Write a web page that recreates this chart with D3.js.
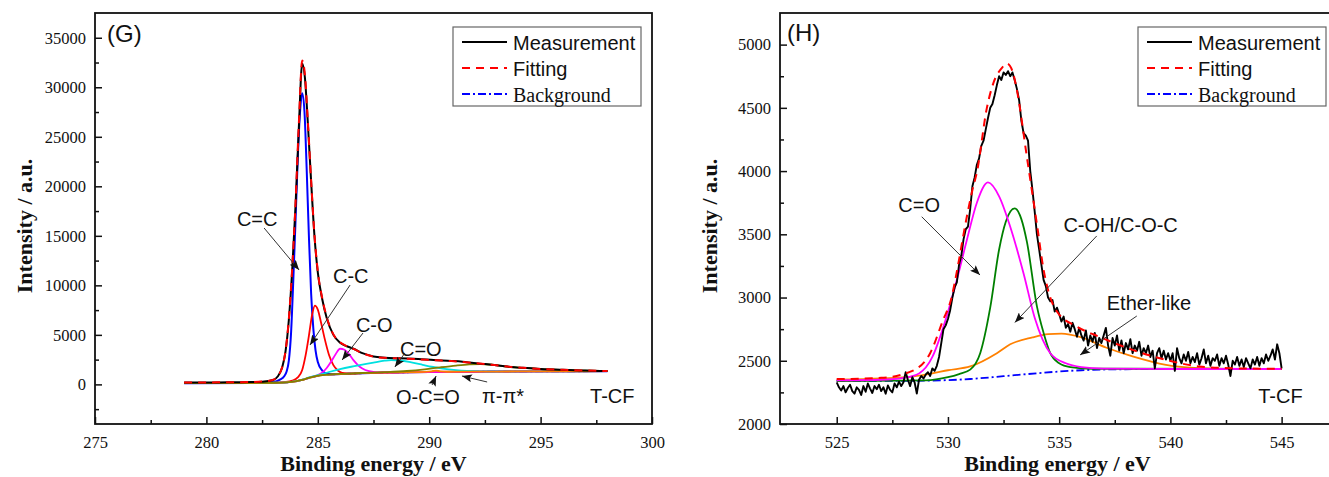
<!DOCTYPE html>
<html><head><meta charset="utf-8">
<script src="https://cdn.jsdelivr.net/npm/d3@7"></script>
<style>body{margin:0;background:#fff}svg{display:block}</style>
</head><body>
<svg id="c" width="1329" height="477"></svg>
<script>
// ---------------- Panel G (C1s) data: [binding energy eV, intensity] ----------------
const gMeasurement = [[279,190],[280,200],[281,205],[282,230],[282.5,270],[283,450],[283.2,800],[283.4,1700],[283.55,3300],[283.7,6500],[283.85,11500],[284.0,18000],[284.15,26000],[284.3,32400],[284.42,31000],[284.55,26500],[284.7,20500],[284.85,15000],[285.0,11300],[285.2,8600],[285.4,6700],[285.7,5000],[286.0,4200],[286.3,3850],[286.6,3600],[287.0,3150],[287.5,2820],[288.0,2700],[288.7,2630],[289.5,2560],[290.2,2450],[291.0,2360],[291.5,2280],[292.0,2150],[292.5,2050],[293.0,1930],[293.5,1800],[294.2,1670],[295.0,1560],[296.0,1470],[297.0,1400],[298.0,1345]];
const gFitting = [[279,190],[280,200],[281,210],[282,240],[282.5,290],[283,470],[283.2,820],[283.4,1720],[283.55,3350],[283.7,6600],[283.85,11700],[284.0,18300],[284.15,26400],[284.3,32700],[284.42,31300],[284.55,26700],[284.7,20600],[284.85,15100],[285.0,11400],[285.2,8700],[285.4,6800],[285.7,5050],[286.0,4250],[286.3,3850],[286.6,3580],[287.0,3150],[287.5,2800],[288.0,2680],[288.7,2610],[289.5,2540],[290.2,2440],[291.0,2350],[291.5,2270],[292.0,2150],[292.5,2050],[293.0,1930],[293.5,1800],[294.2,1670],[295.0,1560],[296.0,1470],[297.0,1400],[298.0,1345]];
const gBackground = [[279,120],[282,140],[283,160],[283.6,200],[284.0,300],[284.3,450],[284.6,650],[284.9,820],[285.2,930],[285.6,1000],[286.2,1060],[287,1130],[288,1190],[289.5,1240],[291,1270],[293,1295],[295,1315],[298,1335]];
const gCC_sp2 = [[279,120],[282,140],[283,250],[283.3,480],[283.5,850],[283.6,1300],[283.7,2400],[283.8,5200],[283.9,10500],[284.0,16500],[284.1,22800],[284.2,27400],[284.3,29400],[284.4,27600],[284.5,21800],[284.6,15000],[284.7,9200],[284.8,5600],[284.9,3400],[285.0,2250],[285.2,1400],[285.4,1100],[285.7,1020],[286.2,1060],[287,1130],[288,1190],[290,1250],[293,1295],[298,1335]];
const gCC_sp3 = [[279,120],[283,165],[283.5,220],[283.9,400],[284.1,700],[284.3,1450],[284.45,2900],[284.6,4900],[284.75,7100],[284.87,7950],[285.0,7550],[285.15,6200],[285.3,4700],[285.5,3000],[285.7,1950],[285.9,1400],[286.1,1150],[286.5,1080],[287,1130],[288,1190],[290,1250],[293,1295],[298,1335]];
const gCO = [[279,120],[283,160],[283.6,200],[284.0,300],[284.3,450],[284.6,660],[284.8,800],[285.0,950],[285.2,1200],[285.4,1650],[285.6,2300],[285.8,3050],[286.0,3600],[286.2,3500],[286.4,3050],[286.6,2450],[286.8,1950],[287.0,1600],[287.3,1330],[287.7,1210],[288.2,1200],[289,1230],[291,1270],[294,1305],[298,1335]];
const gCdO = [[279,120],[282,140],[283,165],[283.6,210],[284.0,320],[284.3,480],[284.6,700],[285,930],[285.5,1250],[286,1540],[286.5,1780],[287,1990],[287.5,2200],[288,2390],[288.3,2450],[288.7,2410],[289.2,2220],[289.7,1980],[290.1,1780],[290.6,1600],[291.2,1450],[291.7,1370],[292.3,1320],[293,1300],[295,1315],[298,1335]];
const gOCdO = [[279,120],[282,140],[283,160],[283.6,200],[284.0,300],[284.3,450],[284.6,650],[284.9,820],[285.2,930],[285.6,1000],[286.2,1060],[287,1130],[288,1190],[289,1230],[289.8,1265],[290.1,1320],[290.3,1390],[290.5,1320],[290.8,1275],[292,1285],[294,1305],[296,1320],[298,1335]];
const gPiPi = [[279,125],[282,145],[283,165],[283.6,205],[284.0,305],[284.3,455],[284.6,655],[284.9,825],[285.2,935],[285.6,1005],[286.2,1070],[287,1150],[288,1230],[289,1350],[289.8,1520],[290.5,1720],[291.2,1900],[291.8,2020],[292.3,2060],[292.9,1960],[293.5,1790],[294.2,1660],[295,1550],[296,1460],[297,1390],[298,1345]];

// ---------------- Panel H (O1s) data ----------------
const hMeasStart = 525.0, hMeasStep = 0.1;
const hMeasurement = [
2330,2290,2265,2300,2250,2285,2310,2260,2240,2290,
2270,2230,2300,2255,2320,2280,2245,2300,2275,2310,
2260,2290,2240,2305,2270,2250,2320,2290,2335,2300,
2330,2410,2350,2300,2370,2330,2240,2350,2380,2360,
2390,2410,2380,2440,2420,2460,2530,2640,2750,2780,
2830,2900,3000,3080,3120,3260,3330,3460,3540,3560,
3700,3880,3950,4050,4100,4200,4240,4330,4420,4500,
4530,4600,4680,4750,4720,4780,4760,4790,4750,4780,
4720,4650,4560,4400,4300,4280,4240,4000,3850,3680,
3500,3380,3260,3140,3090,3000,2970,2980,2890,2920,
2870,2810,2850,2760,2790,2730,2800,2750,2690,2760,
2700,2660,2740,2620,2700,2650,2720,2600,2680,2640,
2700,2760,2620,2540,2680,2620,2700,2580,2660,2560,
2640,2590,2670,2560,2620,2580,2650,2540,2600,2560,
2620,2530,2580,2440,2560,2600,2520,2580,2510,2560,
2500,2560,2420,2600,2520,2480,2550,2500,2570,2480,
2530,2490,2560,2470,2520,2590,2480,2540,2460,2520,
2500,2550,2460,2520,2480,2540,2470,2380,2500,2470,
2530,2460,2510,2450,2520,2480,2440,2510,2470,2530,
2460,2520,2480,2550,2500,2540,2590,2510,2630,2560,
2440];
const hFitting = [[525,2355],[527,2365],[528.4,2420],[529.2,2560],[529.8,2830],[530.1,2960],[530.5,3300],[530.7,3500],[531.1,3850],[531.3,3990],[531.75,4500],[532.05,4700],[532.4,4810],[532.65,4850],[532.9,4790],[533.1,4640],[533.55,4110],[534.0,3580],[534.3,3220],[534.6,3000],[534.9,2890],[535.8,2770],[536.8,2690],[538.3,2586],[539.8,2507],[541.3,2455],[543,2440],[545,2437]];
const hBackground = [[525,2340],[528,2341],[530,2347],[531,2356],[532,2370],[533,2386],[534,2401],[535,2415],[536,2425],[537,2431],[539,2434],[545,2435]];
const hCdO = [[525,2345],[527,2350],[528,2365],[528.7,2400],[529.3,2530],[529.8,2770],[530.4,3140],[530.85,3455],[531.3,3750],[531.8,3910],[532.3,3800],[532.8,3560],[533.4,3190],[533.9,2840],[534.6,2560],[535.3,2480],[536,2450],[537,2438],[540,2435],[545,2435]];
const hCOH = [[525,2340],[529,2345],[530,2370],[530.5,2395],[531,2430],[531.45,2560],[531.9,2920],[532.3,3380],[532.6,3600],[533.0,3705],[533.3,3620],[533.55,3440],[534.0,2930],[534.3,2720],[534.6,2560],[535.0,2480],[535.5,2450],[536.5,2437],[545,2435]];
const hEther = [[525,2350],[527,2360],[528.4,2375],[529.3,2400],[530,2425],[531,2455],[532.2,2560],[532.8,2630],[533.8,2685],[534.5,2710],[535.1,2715],[536,2685],[537.1,2605],[538.3,2535],[539.8,2468],[541.3,2442],[543,2436],[545,2435]];

// tick values
const gXMajor = [275,280,285,290,295,300];
const gXMinor = [277.5,282.5,287.5,292.5,297.5];
const gYMajor = [0,5000,10000,15000,20000,25000,30000,35000];
const gYMinor = [-2500,2500,7500,12500,17500,22500,27500,32500];
const hXMajor = [525,530,535,540,545];
const hXMinor = [527.5,532.5,537.5,542.5];
const hYMajor = [2000,2500,3000,3500,4000,4500,5000];
const hYMinor = [2250,2750,3250,3750,4250,4750];

// annotations (text position and arrows in data coordinates)
const gLabels = [
  {t:"C=C", x:281.37, y:16000, ax:[282.59,15790,284.16,11550]},
  {t:"C-C", x:285.68, y:10237, ax:[286.45,10035,284.65,3977]},
  {t:"C-O", x:286.71, y:5340, ax:[287.03,5188,286.09,2462]},
  {t:"C=O", x:288.69, y:2866, ax:[288.91,3169,288.46,1755]},
  {t:"O-C=O", x:288.51, y:-1981, ax:[290.13,-62,290.31,847]},
  {t:"π-π*", x:292.37, y:-1880, ax:[292.60,241,291.47,847]},
  {t:"T-CF", x:297.22, y:-1880, ax:null}
];
const hLabels = [
  {t:"C=O", x:527.77, y:3676, ax:[528.82,3639,531.44,3178]},
  {t:"C-OH/C-O-C", x:535.19, y:3522, ax:[536.69,3487,533.01,2803]},
  {t:"Ether-like", x:537.14, y:2901, ax:[538.49,2854,535.94,2546]},
  {t:"T-CF", x:543.95, y:2170, ax:null}
];

const svg = d3.select("#c");
const defs = svg.append("defs");
defs.append("marker").attr("id","arr").attr("markerUnits","userSpaceOnUse")
  .attr("markerWidth",11).attr("markerHeight",8).attr("refX",10).attr("refY",4)
  .attr("orient","auto")
  .append("path").attr("d","M0,0 L10,4 L0,8 L2,4 Z").attr("fill","#111");

const SANS = "'Liberation Sans', Arial, sans-serif";
const SERIF = "'Liberation Serif', 'Times New Roman', serif";

function panel(cfg){
  const g = svg.append("g");
  const x = d3.scaleLinear().domain(cfg.xd).range(cfg.xr);
  const y = d3.scaleLinear().domain(cfg.yd).range([424,13]);
  g.append("g").attr("transform","translate(0,424)")
    .call(d3.axisBottom(x).tickValues(cfg.xMaj).tickSize(-7).tickSizeOuter(0).tickPadding(12).tickFormat(d3.format("d")));
  g.append("g").attr("transform","translate(0,424)")
    .call(d3.axisBottom(x).tickValues(cfg.xMin).tickSize(-4).tickSizeOuter(0).tickFormat(""));
  g.append("g").attr("transform",`translate(${cfg.xr[0]},0)`)
    .call(d3.axisLeft(y).tickValues(cfg.yMaj).tickSize(-7).tickSizeOuter(0).tickPadding(9).tickFormat(d3.format("d")));
  g.append("g").attr("transform",`translate(${cfg.xr[0]},0)`)
    .call(d3.axisLeft(y).tickValues(cfg.yMin).tickSize(-4).tickSizeOuter(0).tickFormat(""));
  g.selectAll(".domain").remove();
  g.selectAll(".tick line").attr("stroke","#111").attr("stroke-width",1.5);
  g.selectAll(".tick text").attr("font-family",SERIF).attr("font-size",16.5).attr("fill","#111");
  g.append("rect").attr("x",cfg.xr[0]).attr("y",13).attr("width",cfg.xr[1]-cfg.xr[0]).attr("height",411)
    .attr("fill","none").attr("stroke","#111").attr("stroke-width",1.8);
  const line = d3.line().x(d=>x(d[0])).y(d=>y(d[1])).curve(d3.curveMonotoneX);
  const straight = d3.line().x(d=>x(d[0])).y(d=>y(d[1]));
  cfg.series.forEach(s=>{
    g.append("path").datum(s.data).attr("d", s.straight ? straight(s.data) : line(s.data))
      .attr("fill","none").attr("stroke",s.color).attr("stroke-width",s.w||1.8)
      .attr("stroke-dasharray",s.dash||null).attr("stroke-linejoin","round");
  });
  cfg.labels.forEach(l=>{
    g.append("text").attr("x",x(l.x)).attr("y",y(l.y)).text(l.t)
      .attr("font-family",SANS).attr("font-size",20).attr("fill","#111");
    if(l.ax){
      g.append("line").attr("x1",x(l.ax[0])).attr("y1",y(l.ax[1])).attr("x2",x(l.ax[2])).attr("y2",y(l.ax[3]))
        .attr("stroke","#333").attr("stroke-width",1).attr("marker-end","url(#arr)");
    }
  });
  g.append("text").attr("x",x(cfg.tag[1])).attr("y",y(cfg.tag[2])).text(cfg.tag[0])
    .attr("font-family",SANS).attr("font-size",24).attr("fill","#111");
  const cx = (cfg.xr[0]+cfg.xr[1])/2;
  g.append("text").attr("x",cx).attr("y",471).attr("text-anchor","middle").text("Binding energy / eV")
    .attr("font-family",SERIF).attr("font-weight","bold").attr("font-size",22).attr("fill","#111");
  g.append("text").attr("transform",`translate(${cfg.xr[0]-63},226) rotate(-90)`).attr("text-anchor","middle")
    .text("Intensity / a.u.").attr("font-family",SERIF).attr("font-weight","bold").attr("font-size",22).attr("fill","#111");
  const lg = g.append("g").attr("transform",`translate(${cfg.legend},27)`);
  lg.append("rect").attr("width",188).attr("height",79).attr("fill","#fff").attr("stroke","#666").attr("stroke-width",1.2);
  const items = [
    {t:"Measurement", c:"#000", dash:null, f:SANS, yy:15},
    {t:"Fitting", c:"#ff0000", dash:"8,6", f:SANS, yy:41},
    {t:"Background", c:"#0000ff", dash:"8,3,2,3", f:SERIF, yy:67}
  ];
  items.forEach(it=>{
    lg.append("line").attr("x1",9).attr("x2",54).attr("y1",it.yy).attr("y2",it.yy)
      .attr("stroke",it.c).attr("stroke-width",1.8).attr("stroke-dasharray",it.dash);
    lg.append("text").attr("x",60).attr("y",it.yy+7.5).text(it.t).attr("font-family",it.f)
      .attr("font-size",20).attr("fill","#111");
  });
}

panel({
  xd:[275,300], xr:[95,652], yd:[-4000,37500],
  xMaj:gXMajor, xMin:gXMinor, yMaj:gYMajor, yMin:gYMinor,
  series:[
    {data:gBackground, color:"#0000ff", dash:"8,3,2,3"},
    {data:gCC_sp2, color:"#0000ff", w:2},
    {data:gCC_sp3, color:"#ff0000"},
    {data:gCO, color:"#ff00ff"},
    {data:gCdO, color:"#00e0e0"},
    {data:gOCdO, color:"#ff8000"},
    {data:gPiPi, color:"#808000"},
    {data:gMeasurement, color:"#000", w:2},
    {data:gFitting, color:"#ff0000", dash:"8,6", w:2}
  ],
  labels:gLabels, tag:["(G)",275.54,34622], legend:453
});

const hMeasPts = hMeasurement.map((v,i)=>[hMeasStart + i*hMeasStep, v]);
panel({
  xd:[522.45,547.4], xr:[780,1335], yd:[2000,5250],
  xMaj:hXMajor, xMin:hXMinor, yMaj:hYMajor, yMin:hYMinor,
  series:[
    {data:hBackground, color:"#0000ff", dash:"8,3,2,3"},
    {data:hEther, color:"#ff8000"},
    {data:hCOH, color:"#008000"},
    {data:hCdO, color:"#ff00ff"},
    {data:hMeasPts, color:"#000", w:1.9, straight:true},
    {data:hFitting, color:"#ff0000", dash:"8,6", w:2}
  ],
  labels:hLabels, tag:["(H)",522.76,5025], legend:1138
});
</script>
</body></html>
